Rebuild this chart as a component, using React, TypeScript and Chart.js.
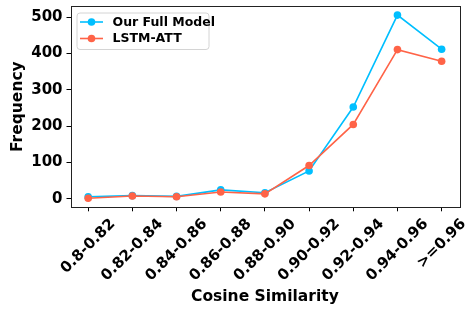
import React, { useEffect, useRef } from "react";
import { Chart, registerables } from "chart.js";

Chart.register(...registerables);

const categories = ["0.8-0.82", "0.82-0.84", "0.84-0.86", "0.86-0.88", "0.88-0.90", "0.90-0.92", "0.92-0.94", "0.94-0.96", ">=0.96"];
const fullModel = [6, 9, 7, 25, 17, 77, 253, 506, 412];
const lstmAtt = [2, 8, 6, 19, 14, 92, 205, 411, 379];
const yTicks = [0, 100, 200, 300, 400, 500];
const seriesNames = ["Our Full Model", "LSTM-ATT"];
const seriesColors = ["#00BFFF", "#FF6347"];
const xTitle = "Cosine Similarity";
const yTitle = "Frequency";

const FONT = "'DejaVu Sans', sans-serif";

const customPlugin = {
  id: "custom",
  afterDraw(chart: any) {
    const ctx = chart.ctx;
    const area = chart.chartArea;
    const xs = chart.scales.x;
    ctx.save();
    // spines
    ctx.strokeStyle = "#222";
    ctx.lineWidth = 1;
    ctx.strokeRect(Math.round(area.left) + 0.5, Math.round(area.top) + 0.5, Math.round(area.right - area.left), Math.round(area.bottom - area.top));
    // x tick labels rotated 45, centered under tick
    ctx.font = "bold 15px " + FONT;
    ctx.fillStyle = "#000";
    ctx.textAlign = "center";
    ctx.textBaseline = "middle";
    const top = area.bottom + 10.5;
    categories.forEach((lab, i) => {
      const w = ctx.measureText(lab).width;
      const ext = (w + 11) * Math.SQRT1_2;
      const cx = xs.getPixelForValue(i);
      const cy = top + ext / 2;
      ctx.save();
      ctx.translate(cx, cy);
      ctx.rotate(-Math.PI / 4);
      ctx.fillText(lab, 0, 0);
      ctx.restore();
    });
    // legend
    const lx = area.left + 6, ly = area.top + 6.5, lw = 132, lh = 36.5;
    ctx.beginPath();
    (ctx as any).roundRect(lx + 0.5, ly + 0.5, lw, lh, 3);
    ctx.fillStyle = "rgba(255,255,255,0.8)";
    ctx.fill();
    ctx.strokeStyle = "#d4d4d4";
    ctx.lineWidth = 1;
    ctx.stroke();
    ctx.font = "bold 12.5px " + FONT;
    ctx.textAlign = "left";
    ctx.textBaseline = "middle";
    seriesNames.forEach((name, i) => {
      const ry = ly + 9.5 + i * 16.5;
      ctx.strokeStyle = seriesColors[i];
      ctx.lineWidth = 1.6;
      ctx.beginPath();
      ctx.moveTo(lx + 3.5, ry);
      ctx.lineTo(lx + 26.5, ry);
      ctx.stroke();
      ctx.fillStyle = seriesColors[i];
      ctx.beginPath();
      ctx.arc(lx + 15, ry, 3.8, 0, Math.PI * 2);
      ctx.fill();
      ctx.fillStyle = "#000";
      ctx.fillText(name, lx + 36, ry + 0.5);
    });
    ctx.restore();
  },
};

export default function App() {
  const ref = useRef<HTMLCanvasElement>(null);
  useEffect(() => {
    const canvas = ref.current!;
    const chart = new Chart(canvas, {
      type: "line",
      data: {
        datasets: [
          {
            label: seriesNames[0],
            data: fullModel.map((v, i) => ({ x: i, y: v })),
            borderColor: seriesColors[0],
            backgroundColor: seriesColors[0],
            borderWidth: 1.6,
            pointRadius: 3.8,
            pointBorderWidth: 0,
            pointBackgroundColor: seriesColors[0],
            tension: 0,
            order: 2,
          },
          {
            label: seriesNames[1],
            data: lstmAtt.map((v, i) => ({ x: i, y: v })),
            borderColor: seriesColors[1],
            backgroundColor: seriesColors[1],
            borderWidth: 1.6,
            pointRadius: 3.8,
            pointBorderWidth: 0,
            pointBackgroundColor: seriesColors[1],
            tension: 0,
            order: 1,
          },
        ],
      },
      options: {
        responsive: false,
        animation: false,
        devicePixelRatio: 1,
        layout: { padding: { left: 0, top: 6, right: 5.7, bottom: 0 } },
        plugins: { legend: { display: false }, tooltip: { enabled: false } },
        scales: {
          x: {
            type: "linear",
            min: -0.4,
            max: 8.4,
            afterBuildTicks: (s: any) => {
              s.ticks = categories.map((_, i) => ({ value: i }));
            },
            afterFit: (s: any) => {
              s.height = 101.7;
              s.paddingLeft = 0;
              s.paddingRight = 0;
            },
            ticks: { display: false, autoSkip: false },
            grid: { display: true, drawOnChartArea: false, drawTicks: true, tickLength: 4, color: "#000", lineWidth: 1 },
            border: { display: false },
            title: {
              display: true,
              text: xTitle,
              color: "#000",
              font: { family: FONT, size: 15.5, weight: "bold" },
              padding: { top: 0, bottom: 3 },
            },
          },
          y: {
            type: "linear",
            min: -23,
            max: 531,
            afterBuildTicks: (s: any) => {
              s.ticks = yTicks.map((v) => ({ value: v }));
            },
            afterFit: (s: any) => {
              s.width = 70.5;
              s.paddingTop = 0;
              s.paddingBottom = 0;
            },
            ticks: {
              color: "#000",
              padding: 4,
              font: { family: FONT, size: 15, weight: "bold" },
            },
            grid: { display: true, drawOnChartArea: false, drawTicks: true, tickLength: 4, color: "#000", lineWidth: 1 },
            border: { display: false },
            title: {
              display: true,
              text: yTitle,
              color: "#000",
              font: { family: FONT, size: 15.5, weight: "bold" },
              padding: { top: 9, bottom: 0 },
            },
          },
        },
      },
      plugins: [customPlugin],
    } as any);
    return () => chart.destroy();
  }, []);
  return (
    <div style={{ position: "fixed", left: 0, top: 0, width: 465, height: 309, background: "#fff" }}>
      <canvas ref={ref} width={465} height={309} style={{ width: 465, height: 309, display: "block" }} />
    </div>
  );
}
